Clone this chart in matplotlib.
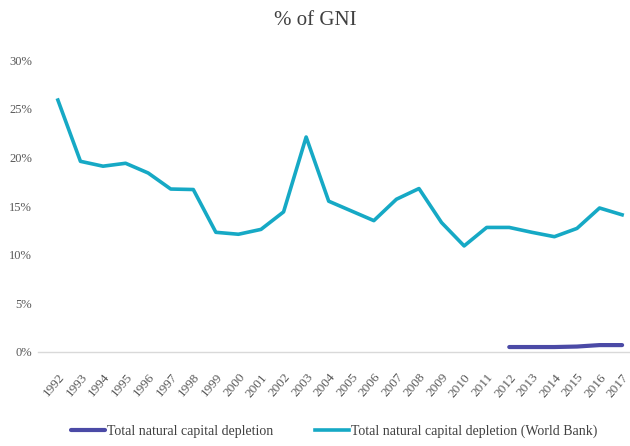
import matplotlib
matplotlib.use("Agg")
import matplotlib.pyplot as plt
from matplotlib.ticker import FuncFormatter

years = [str(y) for y in range(1992, 2018)]
wb_depletion = [25.9, 19.6, 19.1, 19.4, 18.4, 16.75, 16.7, 12.3, 12.1, 12.6, 14.4,
                22.1, 15.5, 14.5, 13.5, 15.7, 16.8, 13.3, 10.9, 12.8, 12.8, 12.3,
                11.85, 12.7, 14.8, 14.1]
total_depletion = [None] * 20 + [0.5, 0.5, 0.5, 0.55, 0.7, 0.7]
y_ticks = [0, 5, 10, 15, 20, 25, 30]

plt.rcParams['font.family'] = ['Liberation Serif', 'DejaVu Serif']

fig = plt.figure(figsize=(6.3, 4.46), dpi=100)
ax = fig.add_axes([0.06, 0.211, 0.94, 0.654])

x = list(range(len(years)))
tot = [(i, v) for i, v in zip(x, total_depletion) if v is not None]
l1, = ax.plot([p[0] for p in tot], [p[1] for p in tot], color='#4b4aa6', lw=3,
              solid_capstyle='round', label='Total natural capital depletion')
l2, = ax.plot(x, wb_depletion, color='#16a9c5', lw=2.6, solid_joinstyle='round',
              label='Total natural capital depletion (World Bank)')

ax.set_xlim(-0.89, 25.35)
ax.set_ylim(0, 30)
ax.set_yticks(y_ticks)
ax.yaxis.set_major_formatter(FuncFormatter(lambda v, p: f"{int(v)}%"))
ax.set_xticks(x)
ax.set_xticklabels(years, rotation=50, ha='right', rotation_mode='anchor')
ax.tick_params(axis='x', length=0, labelsize=9.5, colors='#595959', pad=14)
ax.tick_params(axis='y', length=0, labelsize=9, colors='#595959', pad=4)

for s in ['top', 'right', 'left']:
    ax.spines[s].set_visible(False)
ax.spines['bottom'].set_color('#d9d9d9')
ax.spines['bottom'].set_linewidth(1)

fig.text(0.5, 0.955, '% of GNI', ha='center', va='center', fontsize=15, color='#404040')

fig.legend(handles=[l1, l2], loc='center', bbox_to_anchor=(0.53, 0.032), ncol=2,
           frameon=False, fontsize=10, handlelength=2.5, columnspacing=3,
           labelcolor='#404040', handletextpad=0.1)

fig.savefig('out.png', dpi=100)
